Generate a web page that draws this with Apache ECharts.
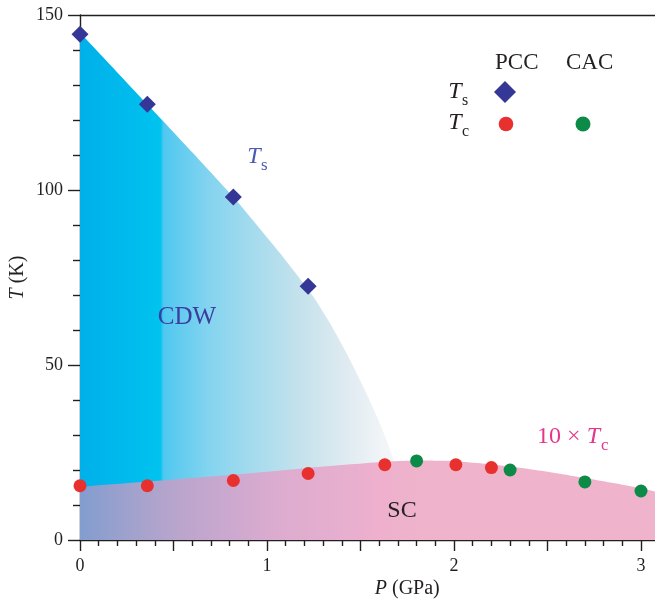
<!DOCTYPE html>
<html>
<head>
<meta charset="utf-8">
<script src="https://cdn.jsdelivr.net/npm/echarts@6/dist/echarts.min.js"></script>
<style>
html,body{margin:0;padding:0;background:#fff;}
#chart{width:655px;height:604px;}
</style>
</head>
<body>
<div id="chart"></div>
<script>
// ---- data ----
// Ts measured with PCC (pressure in GPa, temperature in K)
const tsPCC = [[0, 144.5], [0.36, 124.5], [0.82, 98], [1.22, 72.5]];
// 10 x Tc measured with PCC
const tcPCC = [[0, 15.5], [0.36, 15.5], [0.82, 17], [1.22, 19], [1.63, 21.5], [2.01, 21.5], [2.2, 20.7]];
// 10 x Tc measured with CAC
const tcCAC = [[1.8, 22.6], [2.3, 20], [2.7, 16.6], [3.0, 14]];
// boundary of the CDW region (Ts line)
const cdwBoundary = [[0, 145], [0.36, 124.5], [0.6, 110.8], [0.82, 98], [1.07, 81.9], [1.248, 69.5], [1.337, 61.9], [1.426, 53.3], [1.515, 43.8], [1.604, 33.3], [1.684, 21.9], [1.79, 0]];
// upper boundary of the SC dome (10 x Tc)
const scDome = [[0, 15.2], [0.5, 17.3], [1.0, 19.5], [1.4, 21.4], [1.8, 22.7], [2.0, 22.5], [2.2, 21.6], [2.3, 21.0], [2.5, 19.5], [2.7, 17.7], [2.9, 15.8], [3.0, 14.8], [3.2, 12.2]];
const xTicks = [0, 1, 2, 3];
const yTicks = [0, 50, 100, 150];

const FONT = 'Liberation Serif';
const INK = '#231f20';

const chart = echarts.init(document.getElementById('chart'));

const axisLineStyle = { color: INK, width: 1.4 };

chart.setOption({
  animation: false,
  backgroundColor: '#fff',
  grid: { left: 80, top: 15, width: 654.5, height: 525, outerBoundsMode: 'none', containLabel: false },
  xAxis: [{
    type: 'value', min: 0, max: 3.5, interval: 0.5,
    axisLine: { show: true, onZero: false, lineStyle: axisLineStyle },
    axisTick: { show: true, inside: false, length: 11, lineStyle: axisLineStyle },
    minorTick: { show: true, splitNumber: 5, length: 6, lineStyle: axisLineStyle },
    splitLine: { show: false },
    axisLabel: {
      fontFamily: FONT, fontSize: 18, color: INK, margin: 17, hideOverlap: false,
      formatter: v => (xTicks.indexOf(v) >= 0 ? String(v) : '')
    },
    name: '{i|P} (GPa)', nameLocation: 'middle', nameGap: 39, nameMoveOverlap: false,
    nameTextStyle: {
      fontFamily: FONT, fontSize: 20, color: INK,
      rich: { i: { fontFamily: FONT, fontSize: 20, fontStyle: 'italic', color: INK } }
    }
  }, {
    type: 'value', position: 'top', min: 0, max: 3.5,
    axisLine: { show: true, onZero: false, lineStyle: axisLineStyle },
    axisTick: { show: false }, axisLabel: { show: false }, splitLine: { show: false }
  }],
  yAxis: {
    type: 'value', min: 0, max: 150, interval: 50,
    axisLine: { show: true, onZero: false, lineStyle: axisLineStyle },
    axisTick: { show: true, inside: false, length: 12, lineStyle: axisLineStyle },
    minorTick: { show: true, splitNumber: 5, length: 7, lineStyle: axisLineStyle },
    splitLine: { show: false },
    axisLabel: {
      fontFamily: FONT, fontSize: 18, color: INK, margin: 17,
      formatter: v => (yTicks.indexOf(v) >= 0 ? String(v) : '')
    },
    name: '{i|T} (K)', nameLocation: 'middle', nameGap: 52, nameRotate: 90, nameMoveOverlap: false,
    nameTextStyle: {
      fontFamily: FONT, fontSize: 20, color: INK,
      rich: { i: { fontFamily: FONT, fontSize: 20, fontStyle: 'italic', color: INK } }
    }
  },
  series: [
    {
      type: 'line', data: cdwBoundary, smooth: 0.2, symbol: 'none', z: 1,
      lineStyle: { width: 0 },
      areaStyle: {
        opacity: 1,
        color: new echarts.graphic.LinearGradient(0, 0, 1, 0, [
          { offset: 0, color: '#00b0e9' },
          { offset: 0.15, color: '#00bbed' },
          { offset: 0.24, color: '#00c3ef' },
          { offset: 0.25, color: '#50c8f0' },
          { offset: 0.39, color: '#85d4ef' },
          { offset: 0.54, color: '#aadced' },
          { offset: 0.66, color: '#c5e2ec' },
          { offset: 0.80, color: '#e0ebf1' },
          { offset: 0.91, color: '#f2f5f8' },
          { offset: 1, color: '#f7f8fa' }
        ])
      }
    },
    {
      type: 'line', data: scDome, smooth: 0.3, symbol: 'none', z: 2,
      lineStyle: { width: 0 },
      areaStyle: {
        opacity: 1,
        color: new echarts.graphic.LinearGradient(0, 0, 1, 0, [
          { offset: 0, color: '#829dcf' },
          { offset: 0.11, color: '#a9a3cc' },
          { offset: 0.17, color: '#bba5cd' },
          { offset: 0.25, color: '#cca8cf' },
          { offset: 0.33, color: '#dcaccf' },
          { offset: 0.42, color: '#e5aecf' },
          { offset: 0.50, color: '#eeb0cd' },
          { offset: 0.58, color: '#efb3cb' },
          { offset: 1, color: '#efb3cb' }
        ])
      }
    },
    {
      type: 'scatter', data: tsPCC, symbol: 'diamond', symbolSize: 17, z: 5,
      itemStyle: { color: '#343796', opacity: 1 }
    },
    {
      type: 'scatter', data: tcPCC, symbol: 'circle', symbolSize: 13, z: 5,
      itemStyle: { color: '#e8312f', opacity: 1 }
    },
    {
      type: 'scatter', data: tcCAC, symbol: 'circle', symbolSize: 13, z: 5,
      itemStyle: { color: '#0b8b47', opacity: 1 }
    }
  ],
  graphic: [
    // legend
    { type: 'text', left: 495, top: 51, style: { text: 'PCC', font: '23px "Liberation Serif"', fill: INK } },
    { type: 'text', left: 566, top: 51, style: { text: 'CAC', font: '23px "Liberation Serif"', fill: INK } },
    { type: 'text', x: 455, y: 92, style: { text: 'T', font: 'italic 24px "Liberation Serif"', fill: INK, align: 'center', verticalAlign: 'middle' } },
    { type: 'text', x: 462, y: 101, style: { text: 's', font: '16px "Liberation Serif"', fill: INK, align: 'left', verticalAlign: 'middle' } },
    { type: 'text', x: 455, y: 123, style: { text: 'T', font: 'italic 24px "Liberation Serif"', fill: INK, align: 'center', verticalAlign: 'middle' } },
    { type: 'text', x: 462, y: 132, style: { text: 'c', font: '16px "Liberation Serif"', fill: INK, align: 'left', verticalAlign: 'middle' } },
    { type: 'polygon', shape: { points: [[505, 81], [516, 92], [505, 103], [494, 92]] }, style: { fill: '#343796' } },
    { type: 'circle', shape: { cx: 506, cy: 124, r: 7.3 }, style: { fill: '#e8312f' } },
    { type: 'circle', shape: { cx: 583, cy: 124, r: 7.5 }, style: { fill: '#0b8b47' } },
    // annotations
    { type: 'text', x: 254, y: 157, z: 10, style: { text: 'T', font: 'italic 24px "Liberation Serif"', fill: '#4b5ab3', align: 'center', verticalAlign: 'middle' } },
    { type: 'text', x: 261, y: 166, z: 10, style: { text: 's', font: '17px "Liberation Serif"', fill: '#4b5ab3', align: 'left', verticalAlign: 'middle' } },
    { type: 'text', x: 187, y: 317, z: 10, style: { text: 'CDW', font: '25px "Liberation Serif"', fill: '#3b3d9d', align: 'center', verticalAlign: 'middle' } },
    { type: 'text', x: 402, y: 511, z: 10, style: { text: 'SC', font: '24px "Liberation Serif"', fill: '#222222', align: 'center', verticalAlign: 'middle' } },
    { type: 'text', x: 600, y: 437, z: 10, style: {
        text: '10 × {i|T}', font: '24px "Liberation Serif"', fill: '#e5368a', align: 'right', verticalAlign: 'middle',
        rich: { i: { fontFamily: FONT, fontSize: 24, fontStyle: 'italic', fill: '#e5368a' } }
      } },
    { type: 'text', x: 601, y: 446, z: 10, style: { text: 'c', font: '17px "Liberation Serif"', fill: '#e5368a', align: 'left', verticalAlign: 'middle' } }
  ]
});
</script>
</body>
</html>
